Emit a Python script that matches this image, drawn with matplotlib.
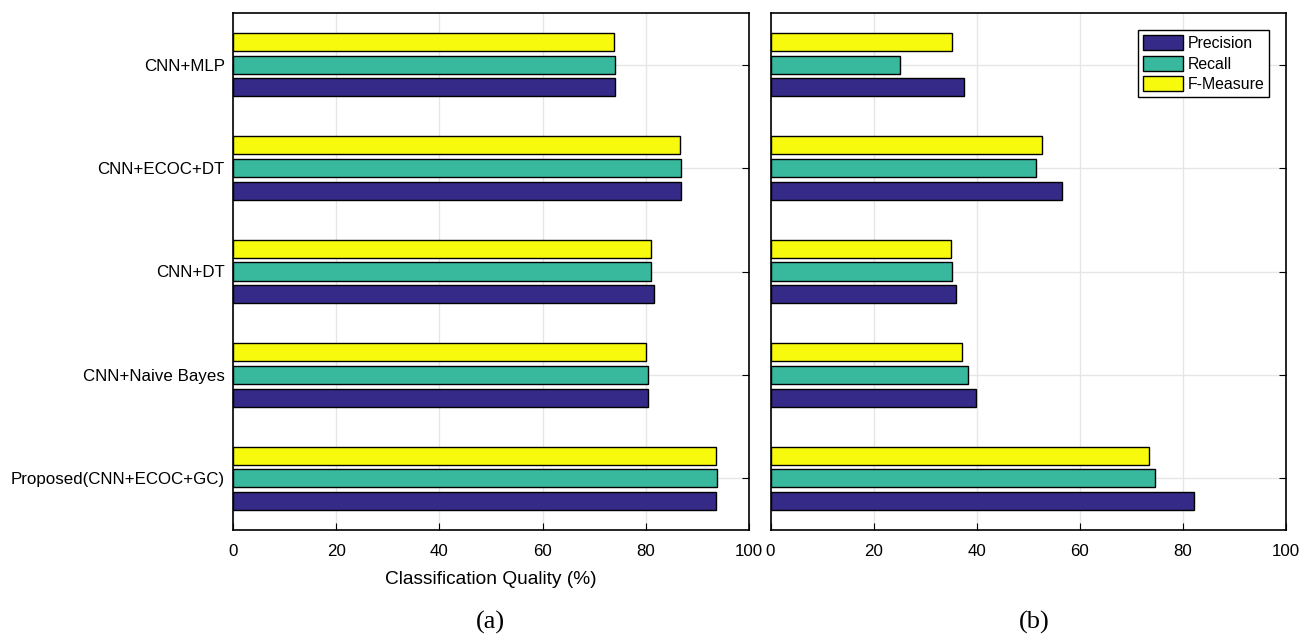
import numpy as np
import matplotlib.pyplot as plt
from matplotlib.patches import Patch

plt.rcParams['font.family'] = ['Liberation Sans', 'DejaVu Sans']

methods = ['Proposed(CNN+ECOC+GC)', 'CNN+Naive Bayes', 'CNN+DT', 'CNN+ECOC+DT', 'CNN+MLP']
series = ['Precision', 'Recall', 'F-Measure']
colors = ['#352a87', '#38b99e', '#f8fa0d']

# panel (a)
prec_a = [93.7, 80.5, 81.5, 86.8, 74.1]
rec_a = [93.8, 80.4, 81.0, 86.9, 74.0]
fm_a = [93.6, 80.0, 81.1, 86.6, 73.9]

# panel (b)
prec_b = [82.2, 39.9, 36.0, 56.6, 37.6]
rec_b = [74.6, 38.4, 35.2, 51.5, 25.1]
fm_b = [73.5, 37.2, 35.0, 52.7, 35.2]

fig = plt.figure(figsize=(13.13, 6.37), dpi=100)
ax1 = fig.add_axes([233 / 1313, 107 / 637, 516 / 1313, 517 / 637])
ax2 = fig.add_axes([770.5 / 1313, 107 / 637, 515 / 1313, 517 / 637])

y = np.arange(1, len(methods) + 1)
h = 0.175
off = 0.22

for ax, vals in [(ax1, [prec_a, rec_a, fm_a]), (ax2, [prec_b, rec_b, fm_b])]:
    for i, (v, c) in enumerate(zip(vals, colors)):
        ax.barh(y + (i - 1) * off, v, height=h, color=c, edgecolor='black',
                linewidth=1.0, zorder=3)
    ax.set_xlim(0, 100)
    ax.set_ylim(0.5, 5.5)
    ax.set_xticks([0, 20, 40, 60, 80, 100])
    ax.set_yticks(y)
    ax.grid(True, color='#e6e6e6', linewidth=1.0, zorder=0)
    ax.tick_params(direction='in', length=5, top=False, right=True,
                   labelsize=12.2, pad=10, color='black')
    for s in ax.spines.values():
        s.set_linewidth(1.2)

ax1.set_yticklabels(methods)
ax2.set_yticklabels([])
ax1.tick_params(axis='y', pad=6)
ax1.set_xlabel('Classification Quality (%)', fontsize=13.8, labelpad=9)

handles = [Patch(facecolor=c, edgecolor='black', label=s) for s, c in zip(series, colors)]
ax2.legend(handles=handles, loc='upper right', bbox_to_anchor=(0.9675, 0.967),
           fontsize=11.4, frameon=True, fancybox=False, edgecolor='black',
           framealpha=1, handlelength=2.55, handleheight=1.1, handletextpad=0.25,
           labelspacing=0.3, borderpad=0.3, borderaxespad=0)

fig.text(490 / 1313, 1 - 622 / 637, '(a)', ha='center', va='center',
         fontsize=19, family='Liberation Serif')
fig.text(1034 / 1313, 1 - 622 / 637, '(b)', ha='center', va='center',
         fontsize=19, family='Liberation Serif')

fig.savefig('out.png', dpi=100)
